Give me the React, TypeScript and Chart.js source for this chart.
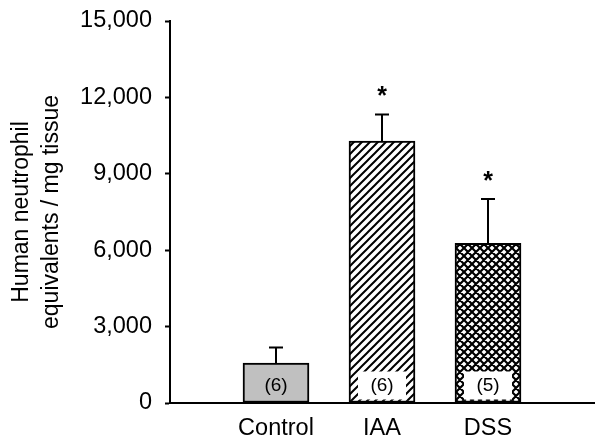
import React, { useEffect, useRef } from "react";
import { Chart, registerables } from "chart.js";

Chart.register(...registerables);

const categories = ["Control", "IAA", "DSS"];
const means = [1570, 10280, 6270];
const errors = [610, 1050, 1740];
const nLabels = ["(6)", "(6)", "(5)"];
const significance = ["", "*", "*"];
const yTicks = [0, 3000, 6000, 9000, 12000, 15000];
const yTitle = ["Human neutrophil", "equivalents / mg tissue"];

const FONT = "'Liberation Sans', Arial, sans-serif";

function makeHatch(): CanvasPattern | string {
  const s = 8;
  const c = document.createElement("canvas");
  c.width = s;
  c.height = s;
  const g = c.getContext("2d");
  if (!g) return "#fff";
  g.fillStyle = "#fff";
  g.fillRect(0, 0, s, s);
  g.strokeStyle = "#000";
  g.lineWidth = 2;
  g.beginPath();
  g.moveTo(-1, s + 1);
  g.lineTo(s + 1, -1);
  g.moveTo(-2, 2);
  g.lineTo(2, -2);
  g.moveTo(s - 2, s + 2);
  g.lineTo(s + 2, s - 2);
  g.stroke();
  return g.createPattern(c, "repeat") || "#fff";
}

function makeCross(): CanvasPattern | string {
  const s = 8;
  const c = document.createElement("canvas");
  c.width = s;
  c.height = s;
  const g = c.getContext("2d");
  if (!g) return "#fff";
  g.fillStyle = "#fff";
  g.fillRect(0, 0, s, s);
  g.strokeStyle = "#000";
  g.lineWidth = 2.2;
  g.beginPath();
  g.moveTo(-1, s + 1);
  g.lineTo(s + 1, -1);
  g.moveTo(-1, -1);
  g.lineTo(s + 1, s + 1);
  g.moveTo(-2, 2);
  g.lineTo(2, -2);
  g.moveTo(s - 2, s + 2);
  g.lineTo(s + 2, s - 2);
  g.moveTo(s - 2, -2);
  g.lineTo(s + 2, 2);
  g.moveTo(-2, s - 2);
  g.lineTo(2, s + 2);
  g.stroke();
  return g.createPattern(c, "repeat") || "#fff";
}

export default function App() {
  const ref = useRef<HTMLCanvasElement | null>(null);

  useEffect(() => {
    if (!ref.current) return;
    const hatch = makeHatch();
    const cross = makeCross();
    const labels = ["", ...categories, ""];
    const data = [null, ...means, null];
    const fills = [null, "#c0c0c0", hatch, cross, null];

    const annotate = {
      id: "annotate",
      afterDatasetsDraw(chart: any) {
        const ctx = chart.ctx;
        const meta = chart.getDatasetMeta(0);
        const yScale = chart.scales.y;
        ctx.save();
        categories.forEach((_, i) => {
          const el = meta.data[i + 1];
          if (!el) return;
          const x = el.x;
          const top = el.y;
          const base = el.base;
          const capY = yScale.getPixelForValue(means[i] + errors[i]);
          ctx.strokeStyle = "#000";
          ctx.lineWidth = 2;
          ctx.beginPath();
          ctx.moveTo(x, top);
          ctx.lineTo(x, capY);
          ctx.moveTo(x - 7, capY);
          ctx.lineTo(x + 7, capY);
          ctx.stroke();
          if (significance[i]) {
            ctx.fillStyle = "#000";
            ctx.font = `bold 25px ${FONT}`;
            ctx.textAlign = "center";
            ctx.textBaseline = "middle";
            ctx.fillText(significance[i], x, capY - 17);
          }
          const ly = base - 17;
          if (i > 0) {
            ctx.fillStyle = "#fff";
            ctx.fillRect(x - 24, ly - 14, 48, 28);
          }
          ctx.fillStyle = "#000";
          ctx.font = `19px ${FONT}`;
          ctx.textAlign = "center";
          ctx.textBaseline = "middle";
          ctx.fillText(nLabels[i], x, ly);
        });
        ctx.restore();
      },
    };

    const chart = new Chart(ref.current, {
      type: "bar",
      data: {
        labels,
        datasets: [
          {
            data,
            backgroundColor: fills as any,
            borderColor: "#000",
            borderWidth: 2,
            borderSkipped: false,
            barThickness: 66,
          },
        ],
      },
      options: {
        responsive: false,
        animation: false,
        events: [],
        layout: { padding: { top: 21, right: 8, bottom: 0, left: 0 } },
        plugins: {
          legend: { display: false },
          tooltip: { enabled: false },
        },
        scales: {
          x: {
            offset: false,
            grid: { display: false, offset: false },
            border: { display: true, color: "#000", width: 2 },
            ticks: {
              color: "#000",
              font: { family: FONT, size: 23.5 },
              padding: 3,
              maxRotation: 0,
              autoSkip: false,
            },
            afterFit(scale: any) {
              scale.height = 43;
              scale.paddingLeft = 0;
              scale.paddingRight = 0;
            },
          },
          y: {
            min: 0,
            max: 15000,
            afterBuildTicks(scale: any) {
              scale.ticks = yTicks.map((v) => ({ value: v }));
            },
            grid: {
              display: true,
              drawOnChartArea: false,
              drawTicks: true,
              tickLength: 5,
              tickWidth: 2,
              tickColor: "#000",
            },
            border: { display: true, color: "#000", width: 2 },
            ticks: {
              color: "#000",
              font: { family: FONT, size: 23.5 },
              padding: 13,
              callback: (v: any) => Number(v).toLocaleString("en-US"),
            },
            title: {
              display: true,
              text: yTitle,
              color: "#000",
              font: { family: FONT, size: 23, lineHeight: 1.3 },
              padding: { top: 7, bottom: 0 },
            },
            afterFit(scale: any) {
              scale.width = 170;
              scale.paddingTop = 0;
              scale.paddingBottom = 0;
            },
          },
        },
      },
      plugins: [annotate],
    });
    return () => chart.destroy();
  }, []);

  return (
    <div style={{ position: "fixed", left: 0, top: 0, width: 602, height: 446, background: "#fff" }}>
      <canvas ref={ref} width={602} height={446} style={{ display: "block" }} />
    </div>
  );
}
